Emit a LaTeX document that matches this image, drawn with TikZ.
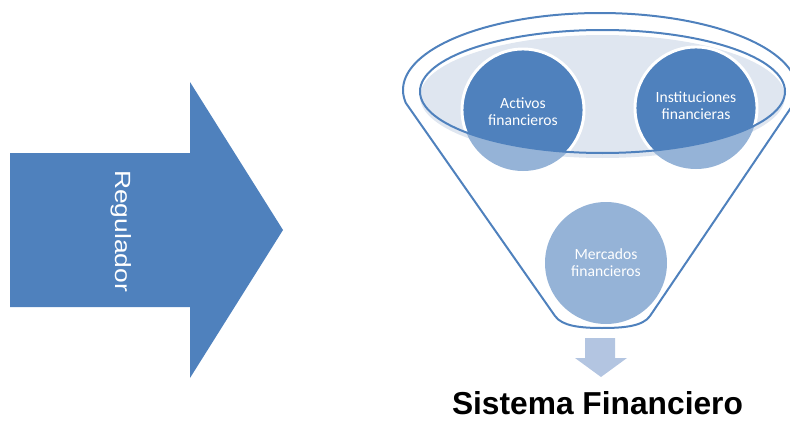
\documentclass[tikz,border=0pt]{standalone}
\usepackage{fontspec}
\setmainfont{Carlito}
\newfontfamily\arialfont{Liberation Sans}
\usetikzlibrary{positioning}

\definecolor{azul}{HTML}{4F81BD}
\definecolor{azulclaro}{HTML}{95B3D7}
\definecolor{bordefill}{HTML}{DFE6F0}
\definecolor{flecha}{HTML}{B3C5E1}

\begin{document}
\begin{tikzpicture}[
  x=0.75pt, y=-0.75pt,
  burbuja/.style={circle, minimum size=91.5pt, inner sep=0pt, align=center, text=white, font=\fontsize{11.7}{12.6}\selectfont},
  borde/.style={draw=azul, line width=1.5pt},
  anillo/.style={draw=white, line width=2.2pt}
]
\useasboundingbox (0,0) rectangle (790,421);

\fill[azul] (10,153) -- (190,153) -- (190,82) -- (283,230) -- (190,378) -- (190,307) -- (10,307) -- cycle;
\node[font=\arialfont\fontsize{16.5}{18}\selectfont, text=white, rotate=-90, xscale=1.2] (regulador) at (121,231) {Regulador};

\draw[borde, line join=round] plot[smooth, domain=-9.7:189.7, samples=60] ({600+197*cos(\x)}, {90-77*sin(\x)})
  -- (555,316) .. controls (562,326) and (580,328) .. (602,328)
  .. controls (625,328) and (643,326) .. (650,316) -- cycle;

\coordinate (activos) at (523,110);
\coordinate (instituciones) at (696,108);
\fill[bordefill] (602.5,96.5) ellipse [x radius=182.5, y radius=61.5];
\fill[azulclaro] (activos) circle [radius=61];
\fill[azulclaro] (instituciones) circle [radius=61];
\begin{scope}
  \clip (602.5,91.5) ellipse [x radius=182.5, y radius=61.5];
  \fill[azul, anillo] (activos) circle [radius=61];
  \fill[azul, anillo] (instituciones) circle [radius=61];
\end{scope}
\draw[borde] (602.5,91.5) ellipse [x radius=182.5, y radius=61.5];

\node[burbuja] (activos-txt) at ([yshift=-1pt]activos) {Activos\\financieros};
\node[burbuja] (instituciones-txt) at ([yshift=2pt]instituciones) {Instituciones\\financieras};
\node[burbuja, fill=azulclaro] (mercados) at (606,263) {Mercados\\financieros};

\fill[flecha] (585,338) -- (615,338) -- (615,358) -- (627,358) -- (601,377) -- (575,358) -- (585,358) -- cycle;
\node[font=\arialfont\bfseries\fontsize{23.8}{26}\selectfont, anchor=base, inner sep=0pt] (sistema) at (597.5,414.5) {Sistema Financiero};
\end{tikzpicture}
\end{document}
